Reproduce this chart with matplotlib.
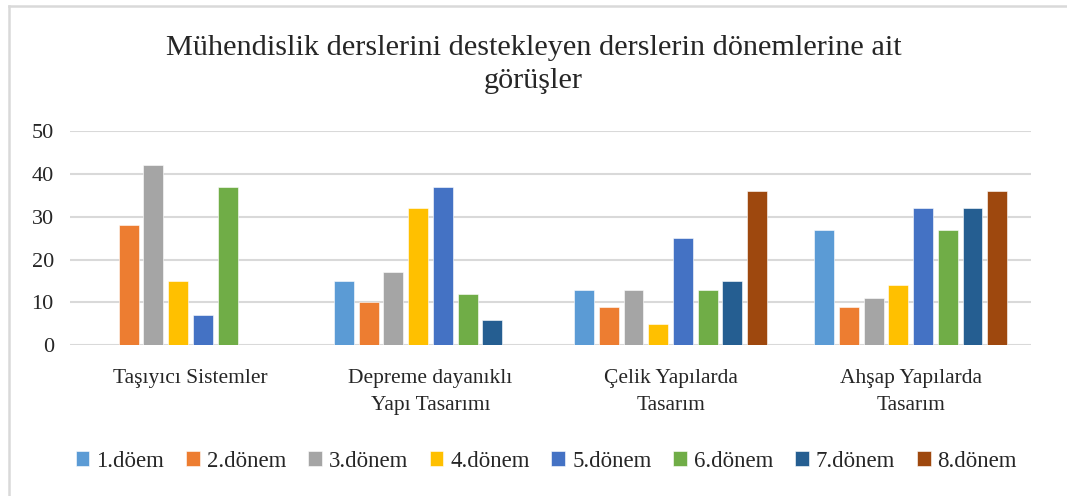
import numpy as np
import matplotlib.pyplot as plt
from matplotlib.lines import Line2D

categories = ["Taşıyıcı Sistemler", "Depreme dayanıklı\nYapı Tasarımı",
              "Çelik Yapılarda\nTasarım", "Ahşap Yapılarda\nTasarım"]
series_names = ["1.döem", "2.dönem", "3.dönem", "4.dönem",
                "5.dönem", "6.dönem", "7.dönem", "8.dönem"]
values = [
    [0, 15, 13, 27],
    [28, 10, 9, 9],
    [42, 17, 13, 11],
    [15, 32, 5, 14],
    [7, 37, 25, 32],
    [37, 12, 13, 27],
    [0, 6, 15, 32],
    [0, 0, 36, 36],
]
colors = ["#5B9BD5", "#ED7D31", "#A5A5A5", "#FFC000",
          "#4472C4", "#70AD47", "#255E91", "#9E480E"]

plt.rcParams['font.family'] = ['Liberation Serif', 'DejaVu Serif']

fig = plt.figure(figsize=(10.67, 4.96), dpi=100)
ax = fig.add_axes([0.066, 0.304, 0.900, 0.432])

x = np.arange(len(categories))
pitch = 0.103
width = 0.083
for i, (name, vals) in enumerate(zip(series_names, values)):
    offs = (i - 3.5) * pitch
    ax.bar(x + offs, vals, width, color=colors[i], label=name,
           edgecolor="white", linewidth=0.4, zorder=3)

ax.set_xlim(-0.5, len(categories) - 0.5)
ax.set_ylim(0, 50)
ax.set_yticks(range(0, 51, 10))
ax.yaxis.grid(True, color="#d9d9d9", linewidth=1.5, zorder=0)
for s in ax.spines.values():
    s.set_visible(False)
ax.tick_params(axis="both", length=0, colors="#262626")
ax.tick_params(axis="y", pad=12, labelsize=16)
ax.tick_params(axis="x", pad=17, labelsize=15.5)
ax.set_xticks(x)
ax.set_xticklabels(categories, linespacing=1.6)

fig.suptitle("Mühendislik derslerini destekleyen derslerin dönemlerine ait\ngörüşler",
             y=0.93, fontsize=21.8, color="#262626", linespacing=1.35)

ax.legend(loc="center", bbox_to_anchor=(0.512, 0.07), bbox_transform=fig.transFigure,
          ncol=8, frameon=False, fontsize=16.5, handlelength=0.6, handleheight=0.6,
          handletextpad=0.3, columnspacing=0.95, labelcolor="#262626")

fig.add_artist(Line2D([0.008, 0.008], [0.0, 0.988], transform=fig.transFigure,
                      color="#d9d9d9", linewidth=1.8))
fig.add_artist(Line2D([0.008, 1.0], [0.988, 0.988], transform=fig.transFigure,
                      color="#d9d9d9", linewidth=1.8))

fig.savefig("out.png", dpi=100)
